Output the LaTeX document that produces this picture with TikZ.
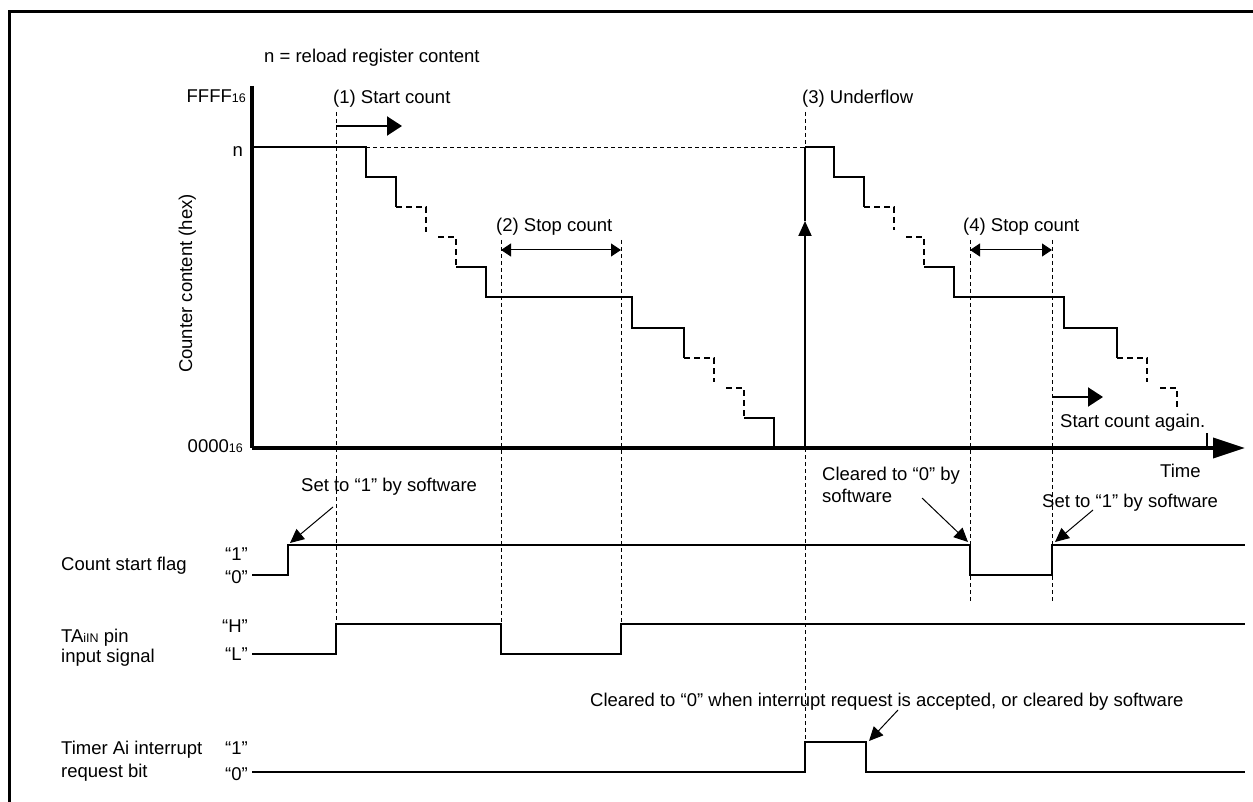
\documentclass[tikz,border=0pt]{standalone}
\usepackage{fontspec}
\setmainfont{Liberation Sans}
\usetikzlibrary{arrows.meta}
\newcommand\myfs{\fontsize{18.5}{22}\selectfont}
\newcommand\mysub[1]{{\fontsize{12.5}{12}\selectfont #1}}
\begin{document}
\begin{tikzpicture}[x=1pt,y=-1pt,
  sig/.style={line width=1.8pt},
  guide/.style={line width=0.9pt, dash pattern=on 4pt off 3pt},
  stairdash/.style={line width=1.8pt, dash pattern=on 6pt off 4pt},
  axisline/.style={line width=3.5pt},
  txt/.style={inner sep=0pt, anchor=base west, font=\myfs},
  rtxt/.style={inner sep=0pt, anchor=base east, font=\myfs},
  bigarrow/.style={line width=2pt, -{Triangle[length=15pt,width=19pt]}},
  dblarrow/.style={line width=1pt, {Triangle[length=10pt,width=13pt]}-{Triangle[length=10pt,width=13pt]}},
  callout/.style={line width=1pt, -{Triangle[length=14pt,width=13pt]}}]
\useasboundingbox (0,0) rectangle (1253,802);
% frame
\draw[line width=3pt] (9,802) -- (9,12) -- (1253,12);

% guide lines (dashed verticals)
\draw[guide] (336,112) -- (336,624);
\draw[guide] (501,240) -- (501,624);
\draw[guide] (621,240) -- (621,624);
\draw[guide] (805,112) -- (805,742);
\draw[guide] (970,240) -- (970,603);
\draw[guide] (1052,240) -- (1052,603);
\draw[guide] (366,147) -- (805,147);

% axes
\coordinate (origin) at (252,448);
\coordinate (ytop) at (252,86);
\coordinate (xend) at (1245,448);
\draw[axisline] (ytop) -- (origin);
\draw[axisline, -{Triangle[length=32pt,width=20pt]}] (origin) -- (xend);

% axis labels
\node[rtxt] (ffff) at (246,103) {FFFF\mysub{16}};
\node[rtxt] (nlab) at (243,157) {n};
\node[rtxt] (zero) at (243,452) {0000\mysub{16}};
\node[inner sep=0pt, rotate=90, anchor=base, font=\myfs] (ylab) at (192,283.5) {Counter content (hex)};
\node[txt] (nnote) at (264,63) {n = reload register content};
\node[txt] (time) at (1160,477) {Time};

% first staircase
\draw[sig] (252,147) -- (366,147) -- (366,177) -- (396,177) -- (396,207);
\draw[stairdash] (396,207) -- (426,207) -- (426,232);
\draw[stairdash] (438,237) -- (456,237) -- (456,267);
\draw[sig] (456,267) -- (486,267) -- (486,297) -- (632,297) -- (632,328) -- (684,328) -- (684,358);
\draw[stairdash] (684,358) -- (714,358) -- (714,382);
\draw[stairdash] (726,388) -- (744,388) -- (744,418);
\draw[sig] (744,418) -- (774,418) -- (774,448);

% underflow
\coordinate (uf0) at (805,448);
\coordinate (ufm) at (805,221);
\coordinate (ufn) at (805,147);
\draw[line width=2pt, -{Triangle[length=15pt,width=13pt]}] (uf0) -- (ufm);
\draw[line width=2pt] (ufm) -- (ufn);

% second staircase
\draw[sig] (805,147) -- (834,147) -- (834,177) -- (864,177) -- (864,207);
\draw[stairdash] (864,207) -- (894,207) -- (894,230);
\draw[stairdash] (906,237) -- (924,237) -- (924,267);
\draw[sig] (924,267) -- (954,267) -- (954,297) -- (1064,297) -- (1064,328) -- (1117,328) -- (1117,358);
\draw[stairdash] (1117,358) -- (1147,358) -- (1147,382);
\draw[stairdash] (1160,388) -- (1177,388) -- (1177,407);
\draw[sig] (1207,433) -- (1207,448);

% event labels and arrows
\node[txt] (l1) at (333,104) {(1) Start count};
\node[txt] (l3) at (802,104) {(3) Underflow};
\node[txt] (l2) at (496,232) {(2) Stop count};
\node[txt] (l4) at (963,232) {(4) Stop count};
\node[txt] (lagain) at (1060,427) {Start count again.};
\coordinate (s1a) at (336,126);
\coordinate (s1b) at (402,126);
\draw[bigarrow] (s1a) -- (s1b);
\coordinate (s2a) at (501,250);
\coordinate (s2b) at (621,250);
\draw[dblarrow] (s2a) -- (s2b);
\coordinate (s4a) at (970,250);
\coordinate (s4b) at (1052,250);
\draw[dblarrow] (s4a) -- (s4b);
\coordinate (s5a) at (1052,397);
\coordinate (s5b) at (1103,397);
\draw[bigarrow] (s5a) -- (s5b);

% count start flag
\node[txt] (flagname) at (61,570) {Count start flag};
\node[rtxt] (flag1) at (248,560) {“1”};
\node[rtxt] (flag0) at (248,583) {“0”};
\draw[sig] (252,575) -- (288,575) -- (288,545) -- (970,545) -- (970,575) -- (1052,575) -- (1052,545) -- (1245,545);
\node[txt] (set1) at (301,491) {Set to “1” by software};
\coordinate (c1a) at (333,507);
\coordinate (c1b) at (290,543);
\draw[callout] (c1a) -- (c1b);
\node[txt] (clr0) at (822,480) {Cleared to “0” by};
\node[txt] (clr0b) at (822,502) {software};
\coordinate (c2a) at (922,498);
\coordinate (c2b) at (968,542);
\draw[callout] (c2a) -- (c2b);
\node[txt] (set1b) at (1042,507) {Set to “1” by software};
\coordinate (c3a) at (1093,510);
\coordinate (c3b) at (1055,542);
\draw[callout] (c3a) -- (c3b);

% TAiIN
\node[txt] (tainame) at (61,642) {TA\mysub{iIN} pin};
\node[txt] (tainame2) at (61,662) {input signal};
\node[rtxt] (taiH) at (248,632) {“H”};
\node[rtxt] (taiL) at (248,660) {“L”};
\draw[sig] (252,654) -- (336,654) -- (336,624) -- (501,624) -- (501,654) -- (621,654) -- (621,624) -- (1245,624);

% interrupt request bit
\node[txt] (irqname) at (61,754) {Timer Ai interrupt};
\node[txt] (irqname2) at (61,777) {request bit};
\node[rtxt] (irq1) at (248,754) {“1”};
\node[rtxt] (irq0) at (248,780) {“0”};
\draw[sig] (252,772) -- (805,772) -- (805,742) -- (866,742) -- (866,772) -- (1245,772);
\node[txt] (irqnote) at (590,706) {Cleared to “0” when interrupt request is accepted, or cleared by software};
\coordinate (c4a) at (898,710);
\coordinate (c4b) at (869,741);
\draw[callout] (c4a) -- (c4b);
\end{tikzpicture}
\end{document}
